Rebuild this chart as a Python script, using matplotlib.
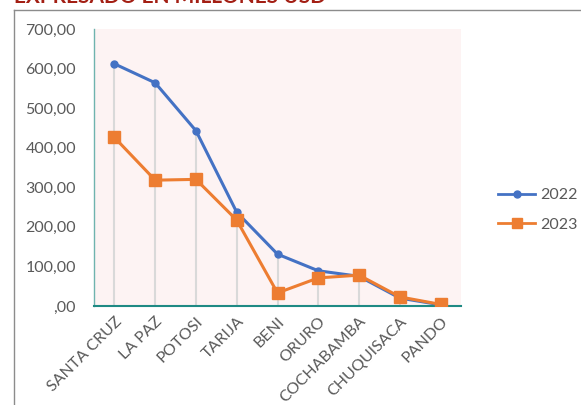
import matplotlib
matplotlib.use("Agg")
import matplotlib.pyplot as plt
from matplotlib.lines import Line2D

categories = ["SANTA CRUZ", "LA PAZ", "POTOSI", "TARIJA", "BENI", "ORURO",
              "COCHABAMBA", "CHUQUISACA", "PANDO"]
v2022 = [612, 564, 443, 237, 131, 89, 75, 20, 3]
v2023 = [426, 318, 320, 217, 33, 71, 78, 23, 4]
yticks = [0, 100, 200, 300, 400, 500, 600, 700]
ytick_labels = [",00", "100,00", "200,00", "300,00", "400,00", "500,00", "600,00", "700,00"]
series_names = ["2022", "2023"]

plt.rcParams['font.family'] = ['Lato', 'DejaVu Sans']

W, H = 581, 405
fig = plt.figure(figsize=(W / 100, H / 100), dpi=100)
ax = fig.add_axes([94 / W, 1 - 306 / H, (461 - 94) / W, (306 - 29) / H])
ax.set_facecolor("#FDF3F3")

x = list(range(len(categories)))
# drop lines
for xi, a, b in zip(x, v2022, v2023):
    ax.plot([xi, xi], [0, max(a, b)], color="#D9D9D9", lw=1.5, zorder=1)

ax.plot(x, v2022, color="#4472C4", lw=2.2, marker="o", ms=5, zorder=3)
ax.plot(x, v2023, color="#ED7D31", lw=2.2, marker="s", ms=8, zorder=4)

ax.set_xlim(-0.5, len(categories) - 0.5)
ax.set_ylim(0, 700)
ax.set_yticks(yticks)
ax.set_yticklabels(ytick_labels)
ax.set_xticks(x)
ax.set_xticklabels(categories, rotation=45, ha="right", rotation_mode="anchor")
ax.tick_params(axis="both", length=0, labelsize=11.5, colors="#595959", pad=6)
ax.tick_params(axis="y", pad=13)

for s in ["top", "right"]:
    ax.spines[s].set_visible(False)
ax.spines["bottom"].set_color("#1F8A84")
ax.spines["bottom"].set_linewidth(1.5)
ax.spines["left"].set_color("#6FB3AE")
ax.spines["left"].set_linewidth(1.0)

handles = [Line2D([], [], color="#4472C4", lw=2, marker="o", ms=5),
           Line2D([], [], color="#ED7D31", lw=2, marker="s", ms=7)]
fig.legend(handles, series_names, loc="center left",
           bbox_to_anchor=(484 / W, 1 - 210 / H), frameon=False,
           fontsize=11.5, labelcolor="#595959", handlelength=2.3,
           handletextpad=0.3, labelspacing=0.95)

# chart frame
fig.add_artist(Line2D([14 / W, 14 / W], [0, 1 - 9.5 / H], transform=fig.transFigure,
                      color="#8C8C8C", lw=1.0))
fig.add_artist(Line2D([14 / W, 1], [1 - 9.5 / H, 1 - 9.5 / H], transform=fig.transFigure,
                      color="#8C8C8C", lw=1.0))

# cropped title (cut off at the top edge, as in the source image)
fig.text(14 / W, 1 + 3 / H, "EXPRESADO EN MILLONES USD", color="#A31F14",
         fontsize=15, fontweight="bold", ha="left", va="center")

fig.savefig("out.png", dpi=100)
